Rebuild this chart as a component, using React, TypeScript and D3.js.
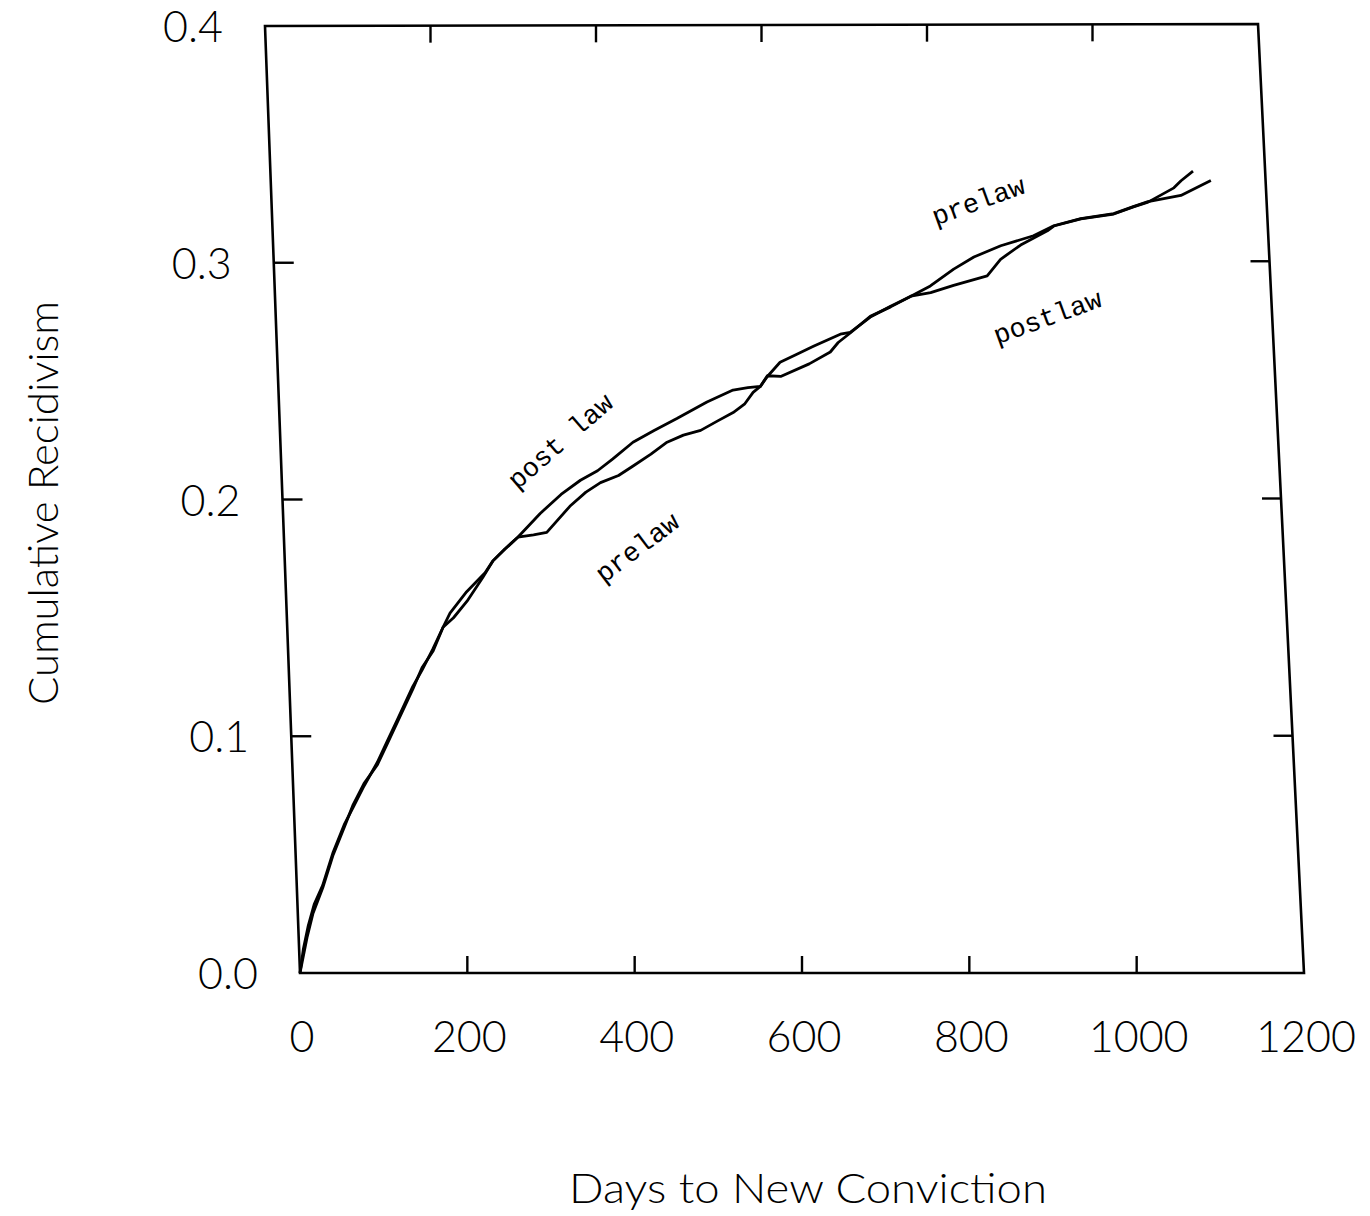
import React from "react";
import * as d3 from "d3";

const xTicks = [0, 200, 400, 600, 800, 1000, 1200];
const xInnerTicks = [200, 400, 600, 800, 1000];
const yTicks = [0.0, 0.1, 0.2, 0.3, 0.4];
const yInnerTicks = [0.1, 0.2, 0.3];

const postlawDays = [0, 5, 12, 20, 31, 45, 60, 71, 85, 102, 115, 128, 148, 160, 174, 187, 196, 217, 240, 250, 265, 281, 309, 335, 359, 380, 399, 424, 450, 478, 515, 547, 565, 580, 589, 605, 640, 666, 676, 691, 716, 741, 766, 790, 818, 859, 876, 901, 934, 942, 975, 1015, 1039, 1057, 1089, 1098, 1113];
const postlawRate = [0, 0.010, 0.020, 0.029, 0.037, 0.051, 0.063, 0.070, 0.079, 0.089, 0.098, 0.107, 0.121, 0.128, 0.137, 0.146, 0.152, 0.161, 0.169, 0.174, 0.179, 0.184, 0.194, 0.202, 0.208, 0.212, 0.217, 0.224, 0.229, 0.234, 0.241, 0.246, 0.247, 0.2475, 0.252, 0.2517, 0.257, 0.262, 0.266, 0.270, 0.277, 0.281, 0.2855, 0.287, 0.290, 0.294, 0.301, 0.307, 0.313, 0.315, 0.318, 0.320, 0.323, 0.325, 0.331, 0.334, 0.338];

const prelawDays = [0, 4, 10, 18, 31, 45, 60, 71, 85, 102, 115, 128, 148, 160, 174, 187, 200, 217, 237, 250, 265, 281, 300, 316, 345, 365, 383, 405, 423, 445, 465, 485, 506, 527, 546, 560, 571, 580, 589, 605, 625, 646, 679, 691, 716, 741, 766, 790, 819, 844, 877, 917, 942, 975, 1015, 1039, 1057, 1097, 1134];
const prelawRate = [0, 0.006, 0.015, 0.025, 0.036, 0.050, 0.062, 0.071, 0.080, 0.088, 0.097, 0.106, 0.120, 0.129, 0.136, 0.146, 0.150, 0.157, 0.167, 0.174, 0.179, 0.184, 0.185, 0.186, 0.197, 0.203, 0.207, 0.210, 0.214, 0.219, 0.224, 0.227, 0.229, 0.233, 0.2365, 0.240, 0.245, 0.2475, 0.2517, 0.2577, 0.261, 0.2644, 0.2695, 0.2703, 0.2767, 0.2813, 0.2855, 0.2898, 0.2969, 0.302, 0.3067, 0.3109, 0.3151, 0.3181, 0.3202, 0.3231, 0.3252, 0.3278, 0.3341];

const annotations = [
  { text: "post law", day: 338, rate: 0.224, angle: -41 },
  { text: "prelaw", day: 425, rate: 0.179, angle: -37 },
  { text: "prelaw", day: 853, rate: 0.325, angle: -20 },
  { text: "postlaw", day: 930, rate: 0.276, angle: -20 },
];

const xTitle = "Days to New Conviction";
const yTitle = "Cumulative Recidivism";

// corners of the (slightly skewed, scanned) plot frame
const BL = [300, 973];
const BR = [1304, 973];
const TL = [265, 26];
const TR = [1258, 24];

function warp(u: number, v: number): [number, number] {
  const bx = BL[0] + (BR[0] - BL[0]) * u;
  const by = BL[1] + (BR[1] - BL[1]) * u;
  const tx = TL[0] + (TR[0] - TL[0]) * u;
  const ty = TL[1] + (TR[1] - TL[1]) * u;
  return [bx + (tx - bx) * v, by + (ty - by) * v];
}

export default function App() {
  const xs = d3.scaleLinear().domain([0, 1200]).range([0, 1]);
  const ys = d3.scaleLinear().domain([0, 0.4]).range([0, 1]);

  const P = (d: number, r: number) => warp(xs(d), ys(r));

  const line = d3
    .line<[number, number]>()
    .x((p) => P(p[0], p[1])[0])
    .y((p) => P(p[0], p[1])[1])
    .curve(d3.curveLinear);

  const post = postlawDays.map((d, i) => [d, postlawRate[i]] as [number, number]);
  const pre = prelawDays.map((d, i) => [d, prelawRate[i]] as [number, number]);

  const frame = [warp(0, 0), warp(1, 0), warp(1, 1), warp(0, 1)];
  const framePath = "M" + frame.map((p) => p.join(",")).join("L") + "Z";

  const tickFont = "Lato, 'DejaVu Sans', sans-serif";

  return (
    <svg width={1370} height={1216} style={{ display: "block", position: "absolute", left: 0, top: 0, background: "#fff" }}>
      <rect x={0} y={0} width={1370} height={1216} fill="#fff" />
      <path d={framePath} fill="none" stroke="#000" strokeWidth={2.6} />
      {xInnerTicks.map((t) => {
        const b = warp(xs(t), 0);
        const tp = warp(xs(t), 1);
        return (
          <g key={"xt" + t}>
            <line x1={b[0]} y1={b[1]} x2={b[0]} y2={b[1] - 17} stroke="#000" strokeWidth={2.4} />
            <line x1={tp[0]} y1={tp[1]} x2={tp[0]} y2={tp[1] + 17} stroke="#000" strokeWidth={2.4} />
          </g>
        );
      })}
      {yInnerTicks.map((t) => {
        const l = warp(0, ys(t));
        const r = warp(1, ys(t));
        return (
          <g key={"yt" + t}>
            <line x1={l[0]} y1={l[1]} x2={l[0] + 20} y2={l[1]} stroke="#000" strokeWidth={2.4} />
            <line x1={r[0]} y1={r[1]} x2={r[0] - 19} y2={r[1]} stroke="#000" strokeWidth={2.4} />
          </g>
        );
      })}
      {xTicks.map((t) => {
        const b = warp(xs(t), 0);
        return (
          <text key={"xl" + t} x={b[0] + 2} y={1052} textAnchor="middle" fontFamily={tickFont} fontWeight={300} fontSize={43} fill="#000">
            {String(t)}
          </text>
        );
      })}
      {yTicks.map((t) => {
        const l = warp(0, ys(t));
        return (
          <text key={"yl" + t} x={l[0] - 42} y={l[1] + 16} textAnchor="end" fontFamily={tickFont} fontWeight={300} fontSize={43} fill="#000">
            {t.toFixed(1)}
          </text>
        );
      })}
      <path d={line(pre) || ""} fill="none" stroke="#000" strokeWidth={2.8} strokeLinejoin="round" />
      <path d={line(post) || ""} fill="none" stroke="#000" strokeWidth={2.8} strokeLinejoin="round" />
      {annotations.map((a, i) => {
        const p = P(a.day, a.rate);
        return (
          <text key={"an" + i} x={p[0]} y={p[1]} transform={`rotate(${a.angle},${p[0]},${p[1]})`} textAnchor="middle" dominantBaseline="middle" fontFamily="'Liberation Mono', 'Courier New', monospace" fontSize={27} fill="#000">
            {a.text}
          </text>
        );
      })}
      <text x={808} y={1203} textAnchor="middle" fontFamily={tickFont} fontWeight={300} fontSize={41} textLength={478} lengthAdjust="spacingAndGlyphs" fill="#000">
        {xTitle}
      </text>
      <text x={0} y={0} transform="translate(58,503) rotate(-90)" textAnchor="middle" fontFamily={tickFont} fontWeight={300} fontSize={41} textLength={404} lengthAdjust="spacingAndGlyphs" fill="#000">
        {yTitle}
      </text>
    </svg>
  );
}
